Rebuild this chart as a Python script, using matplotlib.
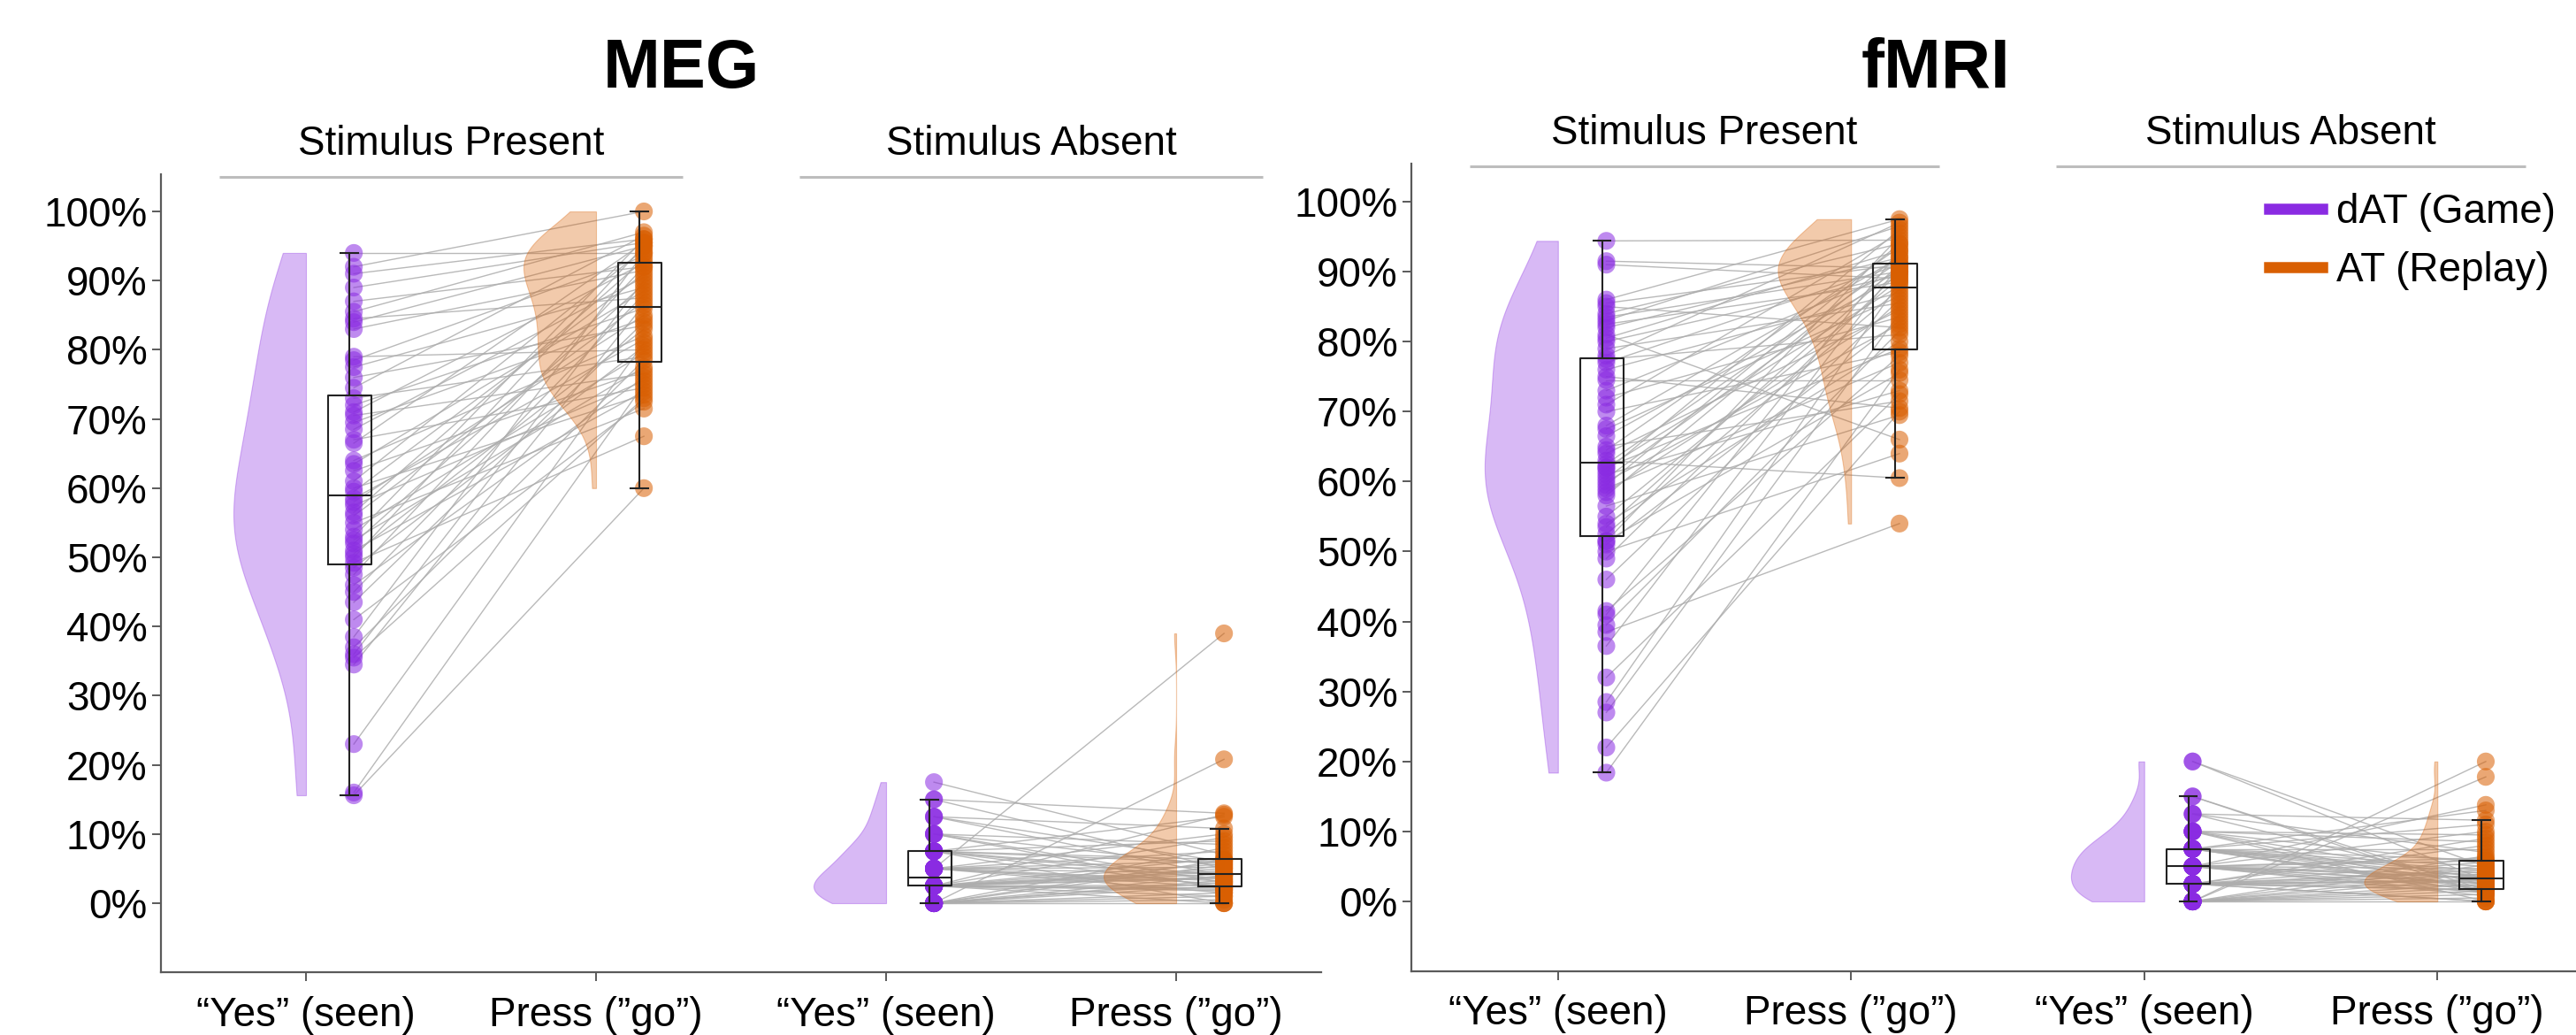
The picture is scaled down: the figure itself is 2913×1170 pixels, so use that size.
import numpy as np
import matplotlib
matplotlib.use("Agg")
import matplotlib.pyplot as plt
from matplotlib.lines import Line2D

plt.rcParams['font.family'] = ['Liberation Sans', 'DejaVu Sans']

# percent of trials, one entry per participant (same order inside each pair)
conditions = ["Stimulus Present", "Stimulus Absent"]
tick_labels = ["\u201cYes\u201d (seen)", "Press (\u201dgo\u201d)",
               "\u201cYes\u201d (seen)", "Press (\u201dgo\u201d)"]
yticks = [0, 10, 20, 30, 40, 50, 60, 70, 80, 90, 100]
series_names = ["dAT (Game)", "AT (Replay)"]

meg_present_yes = [15.6, 16, 23, 34.5, 35.5, 36, 37, 38.5, 41, 43.5, 45, 46, 47.5, 48.5,
                   49.2, 50, 50.5, 51, 52, 52.5, 53, 54, 55, 56, 56.5, 57.5, 58, 58.5,
                   59.5, 60, 61, 62.5, 63.5, 64, 66.5, 67, 68.5, 69.5, 70.5, 71, 72, 73,
                   74.5, 76, 77.5, 78.5, 79, 83, 84, 84.5, 85.5, 87, 89, 91, 92, 94]
meg_present_press = [60, 75, 81, 86.5, 73, 90, 78.5, 94, 72.5, 84, 88, 76, 92, 80.5,
                     67.5, 95, 83, 74, 89.5, 77.5, 96, 79.5, 71.5, 87, 93, 75.5, 85, 81.5,
                     91, 73.5, 94.5, 77, 88.5, 82, 95.5, 74.5, 90.5, 84.5, 76.5, 92.5, 86, 79,
                     96.5, 83.5, 89, 93.5, 80, 91.5, 95, 87.5, 97, 92, 95.5, 96, 100, 94]
meg_absent_yes = [0, 0, 0, 0, 0, 0, 0, 0, 0, 0, 0, 0,
                  2.5, 2.5, 2.5, 2.5, 2.5, 2.5, 2.5, 2.5,
                  2.5, 2.5, 2.5, 2.5, 2.5, 2.5, 2.5, 2.5,
                  5, 5, 5, 5, 5, 5, 5, 5, 5, 5,
                  7.5, 7.5, 7.5, 7.5, 7.5, 7.5, 7.5, 7.5,
                  10, 10, 10, 10, 12.5, 12.5, 12.5, 15, 15, 17.5]
meg_absent_press = [2.5, 0, 6.2, 1.5, 20.8, 4, 3.3, 0.5,
                    3, 5.5, 1, 8, 2.2, 4.5, 0, 12.8, 3.6, 5,
                    1.8, 6.5, 2.6, 4.2, 9.5, 2, 3.8, 5.7, 1, 4.7,
                    39, 2.3, 6.1, 3.2, 10, 4.3, 1.5, 7.5, 5.2, 2.8,
                    4.1, 0, 9, 5.8, 2.4, 12.5, 3.5, 6.3,
                    2, 5.4, 8.5, 3, 10.8, 4, 6, 13, 5, 7]

fmri_present_yes = [18.4, 22, 27, 28.5, 32, 36.5, 38.5, 39.5, 41, 41.5, 46, 49, 50, 51, 51.5, 51.5,
                    52.5, 53.5, 54, 55, 56.5, 58, 58.5, 59, 59.5, 60, 60.5, 61, 61.5, 62, 62, 62.5,
                    63, 64, 64.5, 65, 66.5, 67.5, 68, 70, 71, 72, 73, 74.5, 75, 76, 77, 77.5,
                    78, 79, 80, 80.5, 81, 82, 82.5, 83, 83.5, 84, 85, 85.5, 86, 91, 91.5, 94.4]
fmri_present_press = [76, 70, 84, 88.5, 72.5, 91, 54, 81.5, 93, 78, 86, 90, 64, 83, 95, 75.5,
                      87.5, 91, 80, 89, 69.5, 92.5, 85, 77, 94, 82.5, 90.5, 73, 96, 88, 79, 91.5,
                      60.5, 84.5, 93.5, 71.5, 89.5, 86.5, 92, 78.5, 95.5, 83.5, 90, 74.5, 70.5, 87, 91, 81,
                      97, 85.5, 89.5, 93, 66, 92, 88.5, 96.5, 90, 94, 82, 91, 97.5, 89, 90.5, 94.5]
fmri_absent_yes = [0, 0, 0, 0, 0, 0, 0, 0, 0, 0, 0, 0,
                   2.5, 2.5, 2.5, 2.5, 2.5, 2.5, 2.5, 2.5, 2.5, 2.5, 2.5, 2.5, 2.5, 2.5,
                   5, 5, 5, 5, 5, 5, 5, 5, 5, 5, 5, 5, 5,
                   7.5, 7.5, 7.5, 7.5, 7.5, 7.5, 7.5, 7.5, 7.5, 7.5, 7.5, 7.5,
                   10, 10, 10, 10, 10, 10, 12.5, 12.5, 12.5, 15, 15, 20, 20]
fmri_absent_press = [20, 1, 3.3, 0, 5.2, 2.5, 0.5, 4,
                     17.8, 2, 6.5, 1.5, 3.1, 0, 4.5, 2.8, 8, 1.6, 3.7, 5.6,
                     3, 1.7, 9, 2.2, 4.2, 0, 5.8, 3.4, 1.2, 6.2, 2.6, 10, 4.7, 1.8, 3.8, 2.5,
                     13.8, 3.3, 0.8, 5, 2.9, 7.5, 1.3, 4.4, 11, 2, 3.5, 1.7, 5.9,
                     13, 4, 1.5, 8.5, 3.2, 0, 9.5, 5.4, 2.3, 7, 11.6, 1, 1.6, 3, 5]

PURPLE = "#8a2be2"
ORANGE = "#d95f02"
LINE_GREY = "#adadad"
AXIS_GREY = "#5a5a5a"

VIOLIN_W = 0.25     # max half-violin width (x units)
BOX_OFF = 0.15      # box centre to the right of the tick
BOX_W = 0.15
DOT_OFF = 0.165
FS = 33


def half_violin(ax, values, x, color):
    # gaussian kde (scott's rule), cut at the data range, drawn left of x
    v = np.asarray(values, dtype=float)
    bw = v.std(ddof=1) * len(v) ** (-1 / 5)
    grid = np.linspace(v.min(), v.max(), 300)
    dens = np.exp(-0.5 * ((grid[:, None] - v[None, :]) / bw) ** 2).sum(axis=1)
    dens = dens / dens.max() * VIOLIN_W
    ax.fill_betweenx(grid, x - dens, x, facecolor=color, alpha=0.33,
                     edgecolor=color, linewidth=0.8, zorder=2)


def draw_panel(ax, pairs):
    for pos, (yes, press) in zip([0, 2], pairs):
        # subject lines between the two responses
        for a, b in zip(yes, press):
            ax.plot([pos + DOT_OFF, pos + 1 + DOT_OFF], [a, b], color=LINE_GREY,
                    lw=1.0, alpha=0.85, zorder=1)
        for k, (vals, col) in enumerate([(yes, PURPLE), (press, ORANGE)]):
            x = pos + k
            half_violin(ax, vals, x, col)
            ax.scatter(np.full(len(vals), x + DOT_OFF), vals, s=210, color=col,
                       alpha=0.55, edgecolors='none', zorder=3)
            ax.boxplot(vals, positions=[x + BOX_OFF], widths=BOX_W, showfliers=False,
                       whis=1.5, capwidths=0.06, manage_ticks=False, zorder=4,
                       boxprops=dict(color='#222222', lw=1.5),
                       whiskerprops=dict(color='#222222', lw=1.5),
                       capprops=dict(color='#222222', lw=1.5),
                       medianprops=dict(color='#222222', lw=1.5))

    # condition headers with the grey rule underneath
    for centre, name in zip([0.5, 2.5], conditions):
        ax.text(centre, 109.7, name, ha='center', va='center', fontsize=FS, clip_on=False)
        ax.plot([centre - 0.8, centre + 0.8], [105, 105], color='#bdbdbd', lw=2.2,
                clip_on=False, solid_capstyle='butt')

    ax.set_xlim(-0.5, 3.5)
    ax.set_ylim(-10, 105.4)
    ax.set_xticks([0, 1, 2, 3])
    ax.set_xticklabels(tick_labels)
    ax.set_yticks(yticks)
    ax.set_yticklabels([f"{t}%" for t in yticks])
    ax.tick_params(labelsize=FS, length=7, width=1.4, color=AXIS_GREY, pad=4)
    ax.tick_params(axis='x', pad=12)
    for s in ['top', 'right']:
        ax.spines[s].set_visible(False)
    for s in ['left', 'bottom']:
        ax.spines[s].set_color(AXIS_GREY)
        ax.spines[s].set_linewidth(1.6)


fig = plt.figure(figsize=(29.13, 11.70), dpi=100)
ax_meg = fig.add_axes([0.06248, 0.06051, 0.4504, 0.7713])
ax_fmri = fig.add_axes([0.5479, 0.06145, 0.4552, 0.7802])

draw_panel(ax_meg, [(meg_present_yes, meg_present_press), (meg_absent_yes, meg_absent_press)])
draw_panel(ax_fmri, [(fmri_present_yes, fmri_present_press), (fmri_absent_yes, fmri_absent_press)])

fig.text(770 / 2913, 1 - 78 / 1170, "MEG", ha='center', va='center', fontsize=56, fontweight='bold')
fig.text(2189 / 2913, 1 - 78 / 1170, "fMRI", ha='center', va='center', fontsize=56, fontweight='bold')

handles = [Line2D([], [], color=PURPLE, lw=9), Line2D([], [], color=ORANGE, lw=9)]
ax_fmri.legend(handles, series_names, loc='upper left', frameon=False, fontsize=FS,
               bbox_to_anchor=(2566 / 2913, 1 - 218 / 1170), bbox_transform=fig.transFigure,
               borderpad=0, borderaxespad=0, handlelength=1.3, handletextpad=0.35,
               labelspacing=0.48)

fig.savefig("out.png", dpi=100)
